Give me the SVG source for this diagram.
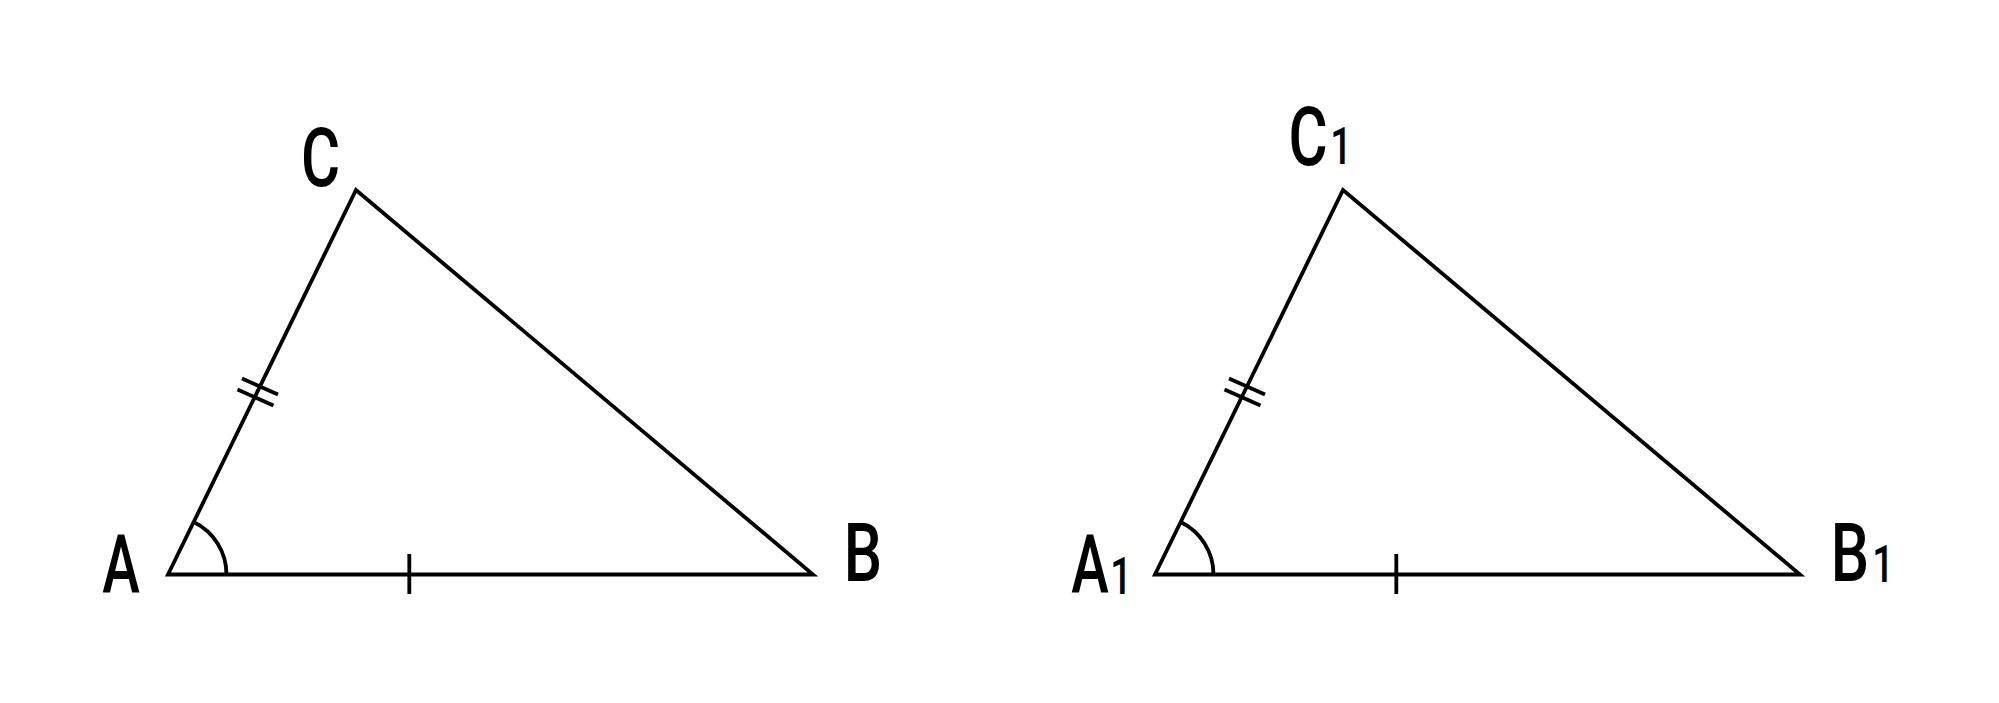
<svg xmlns="http://www.w3.org/2000/svg" width="1999" height="703" viewBox="0 0 1999 703">
<style>
.edge{fill:none;stroke:#000;stroke-width:3.8;stroke-linejoin:miter;stroke-miterlimit:20}
.mark{fill:none;stroke:#000;stroke-width:3.8}
.lbl{font-family:Roboto,"Liberation Sans",sans-serif;font-weight:500;font-size:81px;fill:#000;text-anchor:middle}
.sub{font-family:Roboto,"Liberation Sans",sans-serif;font-weight:500;font-size:51px;fill:#000;text-anchor:middle}
</style>
<rect width="1999" height="703" fill="#fff"/>
<g id="connectors">
  <g id="tri1">
    <polygon class="edge" points="168,574.5 356,190 813,574.5"/>
    <path class="mark" d="M226.5,574.5 A58.5,58.5 0 0 0 193.7,522"/>
    <line class="mark" x1="409.3" y1="554" x2="409.3" y2="594"/>
    <line class="mark" x1="242" y1="378.5" x2="278" y2="394.5"/>
    <line class="mark" x1="237.5" y1="389.5" x2="273.5" y2="405.5"/>
  </g>
  <g id="tri2">
    <polygon class="edge" points="1155,574.5 1343,190 1800,574.5"/>
    <path class="mark" d="M1213.5,574.5 A58.5,58.5 0 0 0 1180.7,522"/>
    <line class="mark" x1="1396.3" y1="554" x2="1396.3" y2="594"/>
    <line class="mark" x1="1229" y1="378.5" x2="1265" y2="394.5"/>
    <line class="mark" x1="1224.5" y1="389.5" x2="1260.5" y2="405.5"/>
  </g>
</g>
<g id="node-A"><text class="lbl" transform="translate(121,593) scale(0.7,1)">A</text></g>
<g id="node-B"><text class="lbl" transform="translate(863,581) scale(0.75,1)">B</text></g>
<g id="node-C"><text class="lbl" transform="translate(320.5,186) scale(0.74,1)">C</text></g>
<g id="node-A1"><text class="lbl" transform="translate(1090,593) scale(0.7,1)">A</text><text class="sub" transform="translate(1121,594) scale(0.75,1)">1</text></g>
<g id="node-B1"><text class="lbl" transform="translate(1850,581) scale(0.75,1)">B</text><text class="sub" transform="translate(1883,582) scale(0.75,1)">1</text></g>
<g id="node-C1"><text class="lbl" transform="translate(1308,165) scale(0.74,1)">C</text><text class="sub" transform="translate(1341,164) scale(0.75,1)">1</text></g>
</svg>
